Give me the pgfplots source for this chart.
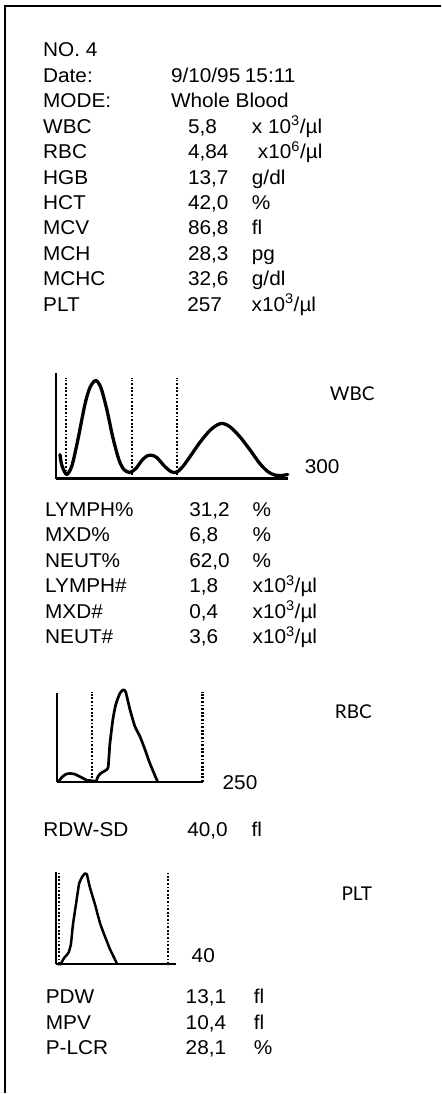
\documentclass[border=0pt]{standalone}
\usepackage{pgfplots}
\pgfplotsset{compat=1.18}
\usepackage{fontspec}
\setmainfont{Liberation Sans}[FakeStretch=1.04]
\newfontfamily\gill{Lato}

\pgfplotsset{
  histo/.style={scale only axis, axis lines=left, axis line style={line width=2.2pt,-},
    xtick=\empty, ytick=\empty, enlargelimits=false, clip=false,
    ymin=0, ymax=100, anchor=south west},
  gate/.style={black, line width=2.2pt, dash pattern=on 1.8pt off 1.8pt},
  curve/.style={black, line width=3.3pt, line join=round, line cap=round}
}
\newcommand\txt[3]{\node[anchor=base west,inner sep=0pt] at (#1pt,-#2pt) {#3};}
\newcommand\ul{/\textmu l}
\newcommand\lab[3]{\node[anchor=base west,inner sep=0pt] at (#1pt,-#2pt) {\gill\fontsize{19}{22}\selectfont #3};}

\begin{document}
\begin{tikzpicture}
\fontsize{20}{25.5}\selectfont
\fill[white] (0,0) rectangle (441pt,-1094pt);
\draw[line width=2.3pt] (5.3pt,-1094pt) -- (5.3pt,-6.2pt) -- (438pt,-6.2pt);
\draw[line width=2.3pt] (437pt,-6.2pt) -- (441pt,-6.2pt);

% header block
\txt{43}{56.7}{NO. 4}
\txt{43}{82.2}{Date:}      \txt{171}{82.2}{9/10/95} \txt{245}{82.2}{15:11}
\txt{43}{107.7}{MODE:}     \txt{171}{107.7}{Whole Blood}
\txt{43}{133.2}{WBC}       \txt{188}{133.2}{5,8}   \txt{252}{133.2}{x 10\textsuperscript{3}\ul}
\txt{43}{158.7}{RBC}       \txt{188}{158.7}{4,84}  \txt{258}{158.7}{x10\textsuperscript{6}\ul}
\txt{43}{184.2}{HGB}       \txt{188}{184.2}{13,7}  \txt{252}{184.2}{g/dl}
\txt{43}{209.7}{HCT}       \txt{188}{209.7}{42,0}  \txt{252}{209.7}{\%}
\txt{43}{235.2}{MCV}       \txt{188}{235.2}{86,8}  \txt{252}{235.2}{fl}
\txt{43}{260.7}{MCH}       \txt{188}{260.7}{28,3}  \txt{252}{260.7}{pg}
\txt{43}{286.2}{MCHC}      \txt{188}{286.2}{32,6}  \txt{252}{286.2}{g/dl}
\txt{43}{311.7}{PLT}       \txt{187.3}{311.7}{257} \txt{251.7}{311.7}{x10\textsuperscript{3}\ul}

% WBC histogram
\begin{axis}[histo, at={(55.7pt,-479pt)}, width=232.3pt, height=106pt, xmin=0, xmax=300]
\addplot[gate] coordinates {(12.9,0) (12.9,95.3)};
\addplot[gate] coordinates {(98.2,0) (98.2,95.3)};
\addplot[gate] coordinates {(157,0) (157,95.3)};
\addplot[curve, smooth, tension=0.5] coordinates {
(5.6,22.6) (8.1,12.3) (14.2,3.8) (21,12) (28.8,36.8) (37.8,69.8) (44.3,85.8)
(51.7,92.5) (58.5,85.8) (66.2,65) (74,38.7) (81.7,17.9) (88.2,8.5) (95.9,5.7)
(103.6,9.4) (111.4,17) (117.9,21.2) (124,22) (130.8,19.8) (139.9,12.3) (148.9,6.6)
(156.3,5.9) (164.4,11.3) (174.7,21.7) (186.4,34) (199.3,45.3) (209.6,50.9)
(216.5,51.9) (225.1,49) (238,39.6) (250.9,27.4) (263.9,14.2) (274.2,6.6)
(283.2,3.3) (292.3,2.8) (300,3.8)};
\end{axis}
\txt{305}{474}{300}
\lab{330}{400.7}{WBC}

% differential
\txt{45}{516.7}{LYMPH\%} \txt{189.3}{516.7}{31,2} \txt{252.7}{516.7}{\%}
\txt{45}{542.2}{MXD\%}   \txt{189.3}{542.2}{6,8}  \txt{252.7}{542.2}{\%}
\txt{45}{567.7}{NEUT\%}  \txt{189.3}{567.7}{62,0} \txt{252.7}{567.7}{\%}
\txt{45}{593.2}{LYMPH\#} \txt{189.3}{593.2}{1,8}  \txt{252.7}{593.2}{x10\textsuperscript{3}\ul}
\txt{45}{618.7}{MXD\#}   \txt{189.3}{618.7}{0,4}  \txt{252.7}{618.7}{x10\textsuperscript{3}\ul}
\txt{45}{644.2}{NEUT\#}  \txt{189.3}{644.2}{3,6}  \txt{252.7}{644.2}{x10\textsuperscript{3}\ul}

% RBC histogram
\begin{axis}[histo, at={(57.3pt,-782.7pt)}, width=146pt, height=88.7pt, xmin=0, xmax=250]
\addplot[gate] coordinates {(59.9,0) (59.9,101.5)};
\addplot[gate] coordinates {(249,0) (249,101.5)};
\addplot[curve, line width=2.7pt, smooth, tension=0.3] coordinates {
(2.9,0.8) (8,5.3) (14.9,8.7) (21.7,9.5) (30.3,8.7) (40.6,5.3) (50.9,1.9) (57.7,1.4)
(66.3,0.8) (70.2,6.4) (74.8,9.8) (83.4,13.2) (87.3,16.6) (90.2,42.5) (95.4,70.7)
(100.5,87.7) (107.4,100) (112.5,103.7) (114.7,103.7) (117.6,101.1) (124.5,82)
(133,62.8) (141.6,51.5) (150.2,36.9) (158.7,21.1) (170.2,3) (172.4,0)};
\end{axis}
\txt{222.7}{790}{250}
\lab{335}{719}{RBC}
\txt{43.3}{837.3}{RDW-SD} \txt{187.3}{837.3}{40,0} \txt{251.7}{837.3}{fl}

% PLT histogram
\begin{axis}[histo, at={(55.7pt,-965pt)}, width=120pt, height=91.7pt, xmin=0, xmax=40]
\addplot[gate] coordinates {(1.1,0) (1.1,98.9)};
\addplot[gate] coordinates {(37.5,0) (37.5,98.9)};
\addplot[curve, line width=2.5pt, smooth, tension=0.3] coordinates {
(0.8,0) (1.7,0) (2.8,6.5) (3.7,9.8) (4.4,13.1) (5.1,21.8) (5.8,43.6) (6.8,65.4)
(7.8,87.2) (8.8,94.9) (9.8,98.9) (10.4,98.1) (11.4,84) (13.1,65.4) (14.8,44.7)
(16.4,30.5) (18.1,16.4) (19.4,7.6) (20.5,0)};
\end{axis}
\txt{191.7}{963.3}{40}
\lab{341.7}{901.7}{PLT}

\txt{45.7}{1005}{PDW}     \txt{185.7}{1005}{13,1}   \txt{254}{1005}{fl}
\txt{45.7}{1030.7}{MPV}   \txt{185.7}{1030.7}{10,4} \txt{254}{1030.7}{fl}
\txt{45.7}{1055.7}{P-LCR} \txt{185.7}{1055.7}{28,1} \txt{254}{1055.7}{\%}
\end{tikzpicture}
\end{document}
